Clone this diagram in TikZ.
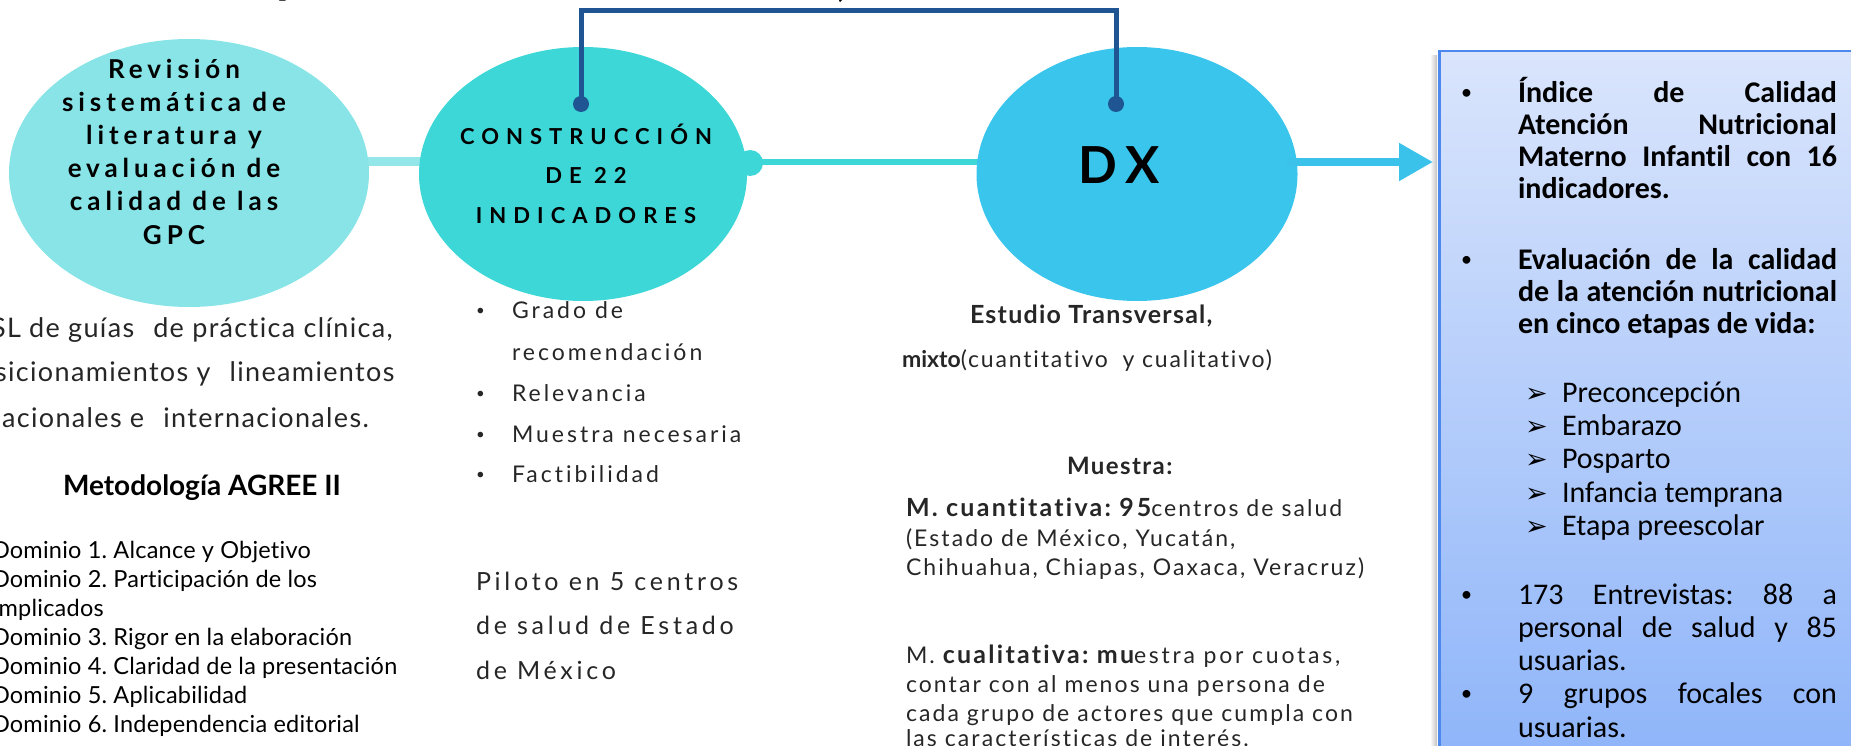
\documentclass[tikz,border=0pt]{standalone}
\usepackage{fontspec}
\setmainfont{Lato}[Ligatures=NoCommon]
\newfontfamily\carlito{Carlito}[Ligatures=NoCommon]
\newfontfamily\dejavu{DejaVu Sans}
\usetikzlibrary{arrows.meta,shapes.geometric,backgrounds}
\definecolor{cOne}{HTML}{88E4E6}
\definecolor{cTwo}{HTML}{3ED7D7}
\definecolor{cDx}{HTML}{39C5EC}
\definecolor{cBr}{HTML}{1F5592}
\definecolor{cArr}{HTML}{3AC2EA}
\definecolor{bTop}{HTML}{DAE5FC}
\definecolor{bBot}{HTML}{8CB3F9}
\definecolor{bBd}{HTML}{4D88EE}
\definecolor{tg}{HTML}{262626}
\newcommand{\fz}[2]{\fontsize{#1}{#2}\selectfont}
\newcommand{\lsp}[1]{\addfontfeature{LetterSpace=#1}}
\frenchspacing
\begin{document}
\begin{tikzpicture}[x=1pt,y=-1pt,
  lt/.style={anchor=base west, inner sep=0pt, outer sep=0pt, text=tg},
  ct/.style={anchor=base, inner sep=0pt, outer sep=0pt, text=black},
  blob/.style={ellipse, inner sep=0pt, outer sep=0pt},
  dotn/.style={circle, fill=cBr, minimum size=16pt, inner sep=0pt},
  bracket/.style={draw=cBr, line width=5pt},
  fCa/.style={font={\fz{26}{33}\bfseries\lsp{19}}},
  fCb/.style={font={\fz{22}{39}\bfseries\lsp{32}}},
  fDx/.style={font={\fz{51}{60}\bfseries\lsp{20}}},
  fLeft/.style={font={\fz{27}{44}\lsp{5}}},
  fDom/.style={font={\fz{23.5}{29}\lsp{1}}},
  fMid/.style={font={\fz{23}{41}\lsp{13}}},
  fPil/.style={font={\fz{25}{45}\lsp{15}}},
  fDxc/.style={font={\fz{23}{29}\lsp{9}}},
  fBb/.style={font={\carlito\fz{30}{32}\bfseries}, text=black},
  fBr/.style={font={\carlito\fz{30}{33}}, text=black},
  fBul/.style={font={\carlito\fz{22}{30}}, text=black},
  fMb/.style={font={\fz{15}{20}}, text=tg}]
\useasboundingbox (0,0) rectangle (1851,746);
\clip (0,0) rectangle (1851,746);
% cut-off title fragments
\node[lt, text=black, font={\fz{52}{60}\bfseries}] (ttl1) at (276,-7) {p};
\node[lt, text=black, font={\fz{52}{60}}] (ttl2) at (836,-4) {,};
% circles
\node[blob, fill=cOne, minimum width=360pt, minimum height=268pt] (c1) at (189,173) {};
\node[blob, fill=cTwo, minimum width=328pt, minimum height=254pt] (c2) at (583,174) {};
\node[blob, fill=cDx, minimum width=321pt, minimum height=254pt] (dx) at (1137,174) {};
\node[circle, fill=cTwo, minimum width=26pt, inner sep=0pt] (knob) at (750,163) {};
\coordinate (ly) at (0,162);
\begin{scope}[on background layer]
  \draw[cOne!90!white, line width=9pt] (c1.center |- ly) -- (c2.center |- ly);
  \draw[cTwo, line width=6pt] (knob.center |- ly) -- (dx.center |- ly);
\end{scope}
% circle texts
\foreach \t [count=\i] in {Revisión, sistemática de, literatura y, evaluación de, calidad de las, GPC}
  \node[ct, fCa] (ta\i) at (174,{79+33*(\i-1)}) {\t};
\foreach \t [count=\i] in {CONSTRUCCIÓN, DE 22, INDICADORES}
  \node[ct, fCb] (tb\i) at (586,{145+39*(\i-1)}) {\t};
\node[ct, fDx] (tdx) at (1119,184) {DX};
% bracket
\node[dotn] (d1) at (581,104) {};
\node[dotn] (d2) at (1116,104) {};
\coordinate (tb) at (850,11);
\draw[bracket] (d1.center) -- (d1.center |- tb) -- (d2.center |- tb) -- (d2.center);
% result box
\shade[left color=white, right color=black!25] (1430,56) rectangle (1437,760);
\node[anchor=north west, rectangle, minimum width=440pt, minimum height=730pt,
      top color=bTop, bottom color=bBot, draw=bBd, line width=2.5pt] (box) at (1438,50) {};
\coordinate (tip) at (1433,162);
\draw[cArr, line width=8pt, -{Triangle[length=34pt,width=36pt]}] (dx.center |- tip) ++(150,0) -- (tip);
% left column
\node[lt, fLeft] (l1) at (-9,337) {SL de guías\hspace{0.4em} de práctica clínica,};
\node[lt, fLeft] (l2) at (-5,381) {sicionamientos y\hspace{0.4em} lineamientos};
\node[lt, fLeft] (l3) at (2,427) {acionales e\hspace{0.4em} internacionales.};
\node[lt, font={\fz{28}{30}\bfseries}, text=black] (l4) at (63,495) {Metodología AGREE II};
\foreach \t [count=\i] in {Dominio 1. Alcance y Objetivo, Dominio 2. Participación de los, Implicados, Dominio 3. Rigor en la elaboración, Dominio 4. Claridad de la presentación, Dominio 5. Aplicabilidad, Dominio 6. Independencia editorial}
  \node[lt, fDom, text=black] (dm\i) at (-8,{558+29*(\i-1)}) {\t};
% middle column
\foreach \t/\y [count=\i] in {Grado de/318, recomendación/360, Relevancia/401, Muestra necesaria/442, Factibilidad/482}
  \node[lt, fMid] (m\i) at (512,\y) {\t};
\foreach \y [count=\i] in {318,401,442,482}
  \node[lt, fMb] (mb\i) at (476,{\y-3}) {•};
\foreach \t/\y [count=\i] in {Piloto en 5 centros/590, de salud de Estado/634, de México/679}
  \node[lt, fPil] (p\i) at (476,\y) {\t};
% DX column
\node[lt, font={\fz{25}{29}\bfseries\lsp{5}}] (x1) at (970,323) {Estudio Transversal,};
\node[lt, font={\fz{23}{29}\lsp{8}}] (x2) at (902,367) {{\bfseries\addfontfeature{LetterSpace=0}mixto}(cuantitativo\hspace{0.3em} y cualitativo)};
\node[lt, font={\fz{24}{29}\bfseries\lsp{6}}] (x3) at (1067,474) {Muestra:};
\node[lt, fDxc] (x4) at (906,516) {{\fz{25}{29}\bfseries\lsp{9}M. cuantitativa: {\lsp{12}95}}centros de salud};
\node[lt, fDxc] (x5) at (906,546) {(Estado de México, Yucatán,};
\node[lt, fDxc] (x6) at (906,575) {Chihuahua, Chiapas, Oaxaca, Veracruz)};
\node[lt, fDxc] (x7) at (906,663) {M. {\fz{25}{29}\bfseries\lsp{9}cualitativa: mu}{\lsp{12}estra por cuotas,}};
\node[lt, fDxc] (x8) at (906,692) {contar con al menos una persona de};
\node[lt, fDxc] (x9) at (906,721) {cada grupo de actores que cumpla con};
\node[lt, fDxc] (x10) at (906,746) {las características de interés.};
% box texts
\node[lt, fBul] (bb1) at (1461,100) {•};
\node[lt, fBul] (bb2) at (1461,266) {•};
\node[lt, fBul] (bb3) at (1461,601) {•};
\node[lt, fBul] (bb4) at (1461,700) {•};
\node[lt, fBb] (r1) at (1518,103) {\makebox[319pt][s]{Índice de Calidad}};
\node[lt, fBb] (r2) at (1518,135) {\makebox[319pt][s]{Atención Nutricional}};
\node[lt, fBb] (r3) at (1518,167) {\makebox[319pt][s]{Materno Infantil con 16}};
\node[lt, fBb] (r4) at (1518,199) {indicadores.};
\node[lt, fBb] (r5) at (1518,269) {\makebox[319pt][s]{Evaluación de la calidad}};
\node[lt, fBb] (r6) at (1518,301) {\makebox[319pt][s]{de la atención nutricional}};
\node[lt, fBb] (r7) at (1518,333) {en cinco etapas de vida:};
\foreach \t/\y [count=\i] in {Preconcepción/402, Embarazo/435, Posparto/468, Infancia temprana/502, Etapa preescolar/535}{
  \node[lt, font={\dejavu\fz{27}{30}}, text=black] (ar\i) at (1525,\y) {➢};
  \node[lt, fBr] (e\i) at (1562,\y) {\t};
}
\node[lt, fBr] (s1) at (1518,604) {\makebox[319pt][s]{173 Entrevistas: 88 a}};
\node[lt, fBr] (s2) at (1518,637) {\makebox[319pt][s]{personal de salud y 85}};
\node[lt, fBr] (s3) at (1518,670) {usuarias.};
\node[lt, fBr] (s4) at (1518,703) {\makebox[319pt][s]{9 grupos focales con}};
\node[lt, fBr] (s5) at (1518,737) {usuarias.};
\end{tikzpicture}
\end{document}
